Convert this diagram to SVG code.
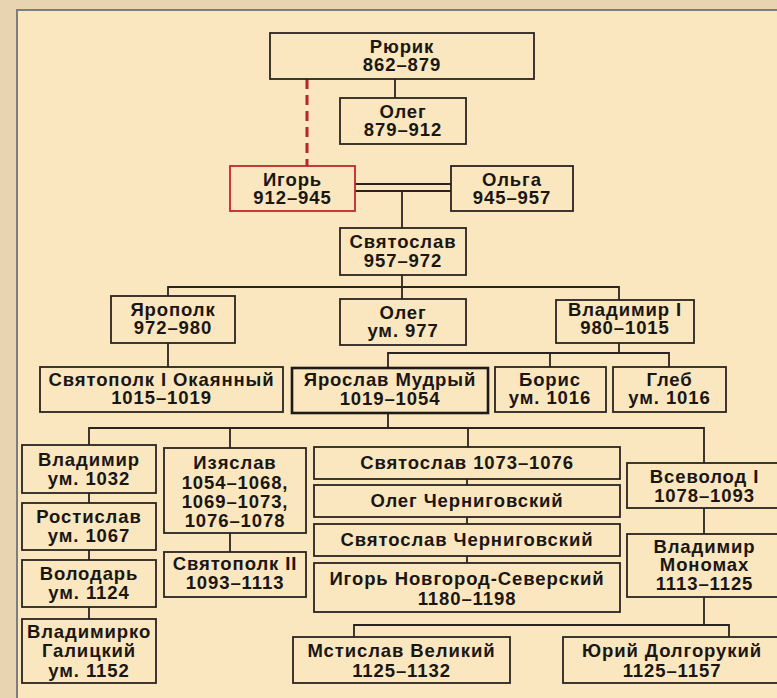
<svg xmlns="http://www.w3.org/2000/svg" width="777" height="698" viewBox="0 0 777 698">
<style>
.bx{fill:none;stroke:#2a2420;stroke-width:1.8}
.red{fill:none;stroke:#c0282c;stroke-width:1.8}
.thick{fill:none;stroke:#1e1a17;stroke-width:2.6}
.t{font-family:"Liberation Sans",Arial,sans-serif;font-weight:bold;font-size:18.5px;letter-spacing:0.9px;fill:#1a1613;text-anchor:middle}
.ln{fill:none;stroke:#2a2420;stroke-width:1.8}
</style>
<rect x="0" y="0" width="777" height="698" fill="#e8d4b0"/>
<rect x="17" y="10" width="770" height="700" fill="#fae7bf" stroke="#7d7d7d" stroke-width="2"/>
<g id="connectors" class="ln">
<line x1="395" y1="79" x2="395" y2="98"/>
<line x1="307" y1="79" x2="307" y2="166" stroke="#b3262a" stroke-width="3" stroke-dasharray="10 6"/>
<line x1="355" y1="184" x2="451" y2="184"/>
<line x1="355" y1="191" x2="451" y2="191"/>
<line x1="402" y1="191" x2="402" y2="228"/>
<line x1="402" y1="275" x2="402" y2="299"/>
<polyline points="168,296 168,287 619,287 619,300"/>
<line x1="168" y1="343" x2="168" y2="367"/>
<line x1="619" y1="343" x2="619" y2="353"/>
<polyline points="388,368 388,353 669,353 669,367"/>
<line x1="550" y1="353" x2="550" y2="367"/>
<line x1="388" y1="413" x2="388" y2="428"/>
<polyline points="89,445 89,428 704,428 704,463"/>
<line x1="230" y1="428" x2="230" y2="448"/>
<line x1="468" y1="428" x2="468" y2="447"/>
<line x1="89" y1="493" x2="89" y2="503"/>
<line x1="89" y1="550" x2="89" y2="560"/>
<line x1="89" y1="607" x2="89" y2="619"/>
<line x1="230" y1="533" x2="230" y2="552"/>
<line x1="467" y1="479" x2="467" y2="485"/>
<line x1="467" y1="517" x2="467" y2="524"/>
<line x1="467" y1="556" x2="467" y2="563"/>
<line x1="704" y1="508" x2="704" y2="534"/>
<line x1="704" y1="597" x2="704" y2="625"/>
<polyline points="354,637 354,625 729,625 729,637"/>
</g>
<g id="rurik"><rect class="bx" x="270" y="33" width="264" height="46"/><text class="t"><tspan x="402" y="53">Рюрик</tspan><tspan x="402" y="71">862–879</tspan></text></g>
<g id="oleg1"><rect class="bx" x="340" y="98" width="126" height="46"/><text class="t"><tspan x="403" y="118">Олег</tspan><tspan x="403" y="136">879–912</tspan></text></g>
<g id="igor"><rect class="red" x="230" y="166" width="125" height="45"/><text class="t"><tspan x="292.5" y="186">Игорь</tspan><tspan x="292.5" y="204">912–945</tspan></text></g>
<g id="olga"><rect class="bx" x="451" y="166" width="122" height="45"/><text class="t"><tspan x="512" y="186">Ольга</tspan><tspan x="512" y="204">945–957</tspan></text></g>
<g id="svyatoslav"><rect class="bx" x="340" y="228" width="126" height="47"/><text class="t"><tspan x="403" y="248">Святослав</tspan><tspan x="403" y="267">957–972</tspan></text></g>
<g id="yaropolk"><rect class="bx" x="111" y="296" width="124" height="47"/><text class="t"><tspan x="173" y="316">Ярополк</tspan><tspan x="173" y="334">972–980</tspan></text></g>
<g id="oleg2"><rect class="bx" x="340" y="299" width="126" height="46"/><text class="t"><tspan x="403" y="319">Олег</tspan><tspan x="403" y="337">ум. 977</tspan></text></g>
<g id="vladimir1"><rect class="bx" x="556" y="300" width="138" height="43"/><text class="t"><tspan x="625" y="316">Владимир I</tspan><tspan x="625" y="334">980–1015</tspan></text></g>
<g id="svyatopolk1"><rect class="bx" x="40" y="367" width="243" height="45"/><text class="t"><tspan x="161.5" y="386">Святополк I Окаянный</tspan><tspan x="161.5" y="404">1015–1019</tspan></text></g>
<g id="yaroslav"><rect class="thick" x="292" y="368" width="196" height="45"/><text class="t"><tspan x="390" y="386">Ярослав Мудрый</tspan><tspan x="390" y="405">1019–1054</tspan></text></g>
<g id="boris"><rect class="bx" x="495" y="367" width="111" height="45"/><text class="t"><tspan x="550" y="386">Борис</tspan><tspan x="550" y="404">ум. 1016</tspan></text></g>
<g id="gleb"><rect class="bx" x="613" y="367" width="113" height="45"/><text class="t"><tspan x="669.5" y="386">Глеб</tspan><tspan x="669.5" y="404">ум. 1016</tspan></text></g>
<g id="vladimir2"><rect class="bx" x="22" y="445" width="134" height="48"/><text class="t"><tspan x="89" y="466">Владимир</tspan><tspan x="89" y="485">ум. 1032</tspan></text></g>
<g id="rostislav"><rect class="bx" x="22" y="503" width="134" height="47"/><text class="t"><tspan x="89" y="523">Ростислав</tspan><tspan x="89" y="542">ум. 1067</tspan></text></g>
<g id="volodar"><rect class="bx" x="22" y="560" width="134" height="47"/><text class="t"><tspan x="89" y="580">Володарь</tspan><tspan x="89" y="599">ум. 1124</tspan></text></g>
<g id="vladimirko"><rect class="bx" x="22" y="619" width="134" height="64"/><text class="t"><tspan x="89" y="638">Владимирко</tspan><tspan x="89" y="657">Галицкий</tspan><tspan x="89" y="677">ум. 1152</tspan></text></g>
<g id="izyaslav"><rect class="bx" x="164" y="448" width="142" height="85"/><text class="t"><tspan x="235" y="469">Изяслав</tspan><tspan x="235" y="489">1054–1068,</tspan><tspan x="235" y="508">1069–1073,</tspan><tspan x="235" y="527">1076–1078</tspan></text></g>
<g id="svyatopolk2"><rect class="bx" x="164" y="552" width="142" height="45"/><text class="t"><tspan x="235" y="570">Святополк II</tspan><tspan x="235" y="589">1093–1113</tspan></text></g>
<g id="svyatoslav1073"><rect class="bx" x="314" y="447" width="306" height="32"/><text class="t" x="467" y="469">Святослав 1073–1076</text></g>
<g id="olegch"><rect class="bx" x="314" y="485" width="306" height="32"/><text class="t" x="467" y="507">Олег Черниговский</text></g>
<g id="svyatoslavch"><rect class="bx" x="314" y="524" width="306" height="32"/><text class="t" x="467" y="546">Святослав Черниговский</text></g>
<g id="igorns"><rect class="bx" x="314" y="563" width="306" height="49"/><text class="t"><tspan x="467" y="585">Игорь Новгород-Северский</tspan><tspan x="467" y="605">1180–1198</tspan></text></g>
<g id="vsevolod"><rect class="bx" x="627" y="463" width="155" height="45"/><text class="t"><tspan x="704.5" y="483">Всеволод I</tspan><tspan x="704.5" y="502">1078–1093</tspan></text></g>
<g id="monomakh"><rect class="bx" x="627" y="534" width="155" height="63"/><text class="t"><tspan x="704.5" y="553">Владимир</tspan><tspan x="704.5" y="571">Мономах</tspan><tspan x="704.5" y="590">1113–1125</tspan></text></g>
<g id="mstislav"><rect class="bx" x="293" y="637" width="217" height="46"/><text class="t"><tspan x="401.5" y="657">Мстислав Великий</tspan><tspan x="401.5" y="677">1125–1132</tspan></text></g>
<g id="yuri"><rect class="bx" x="563" y="637" width="218" height="46"/><text class="t"><tspan x="672" y="657">Юрий Долгорукий</tspan><tspan x="672" y="677">1125–1157</tspan></text></g>
</svg>
